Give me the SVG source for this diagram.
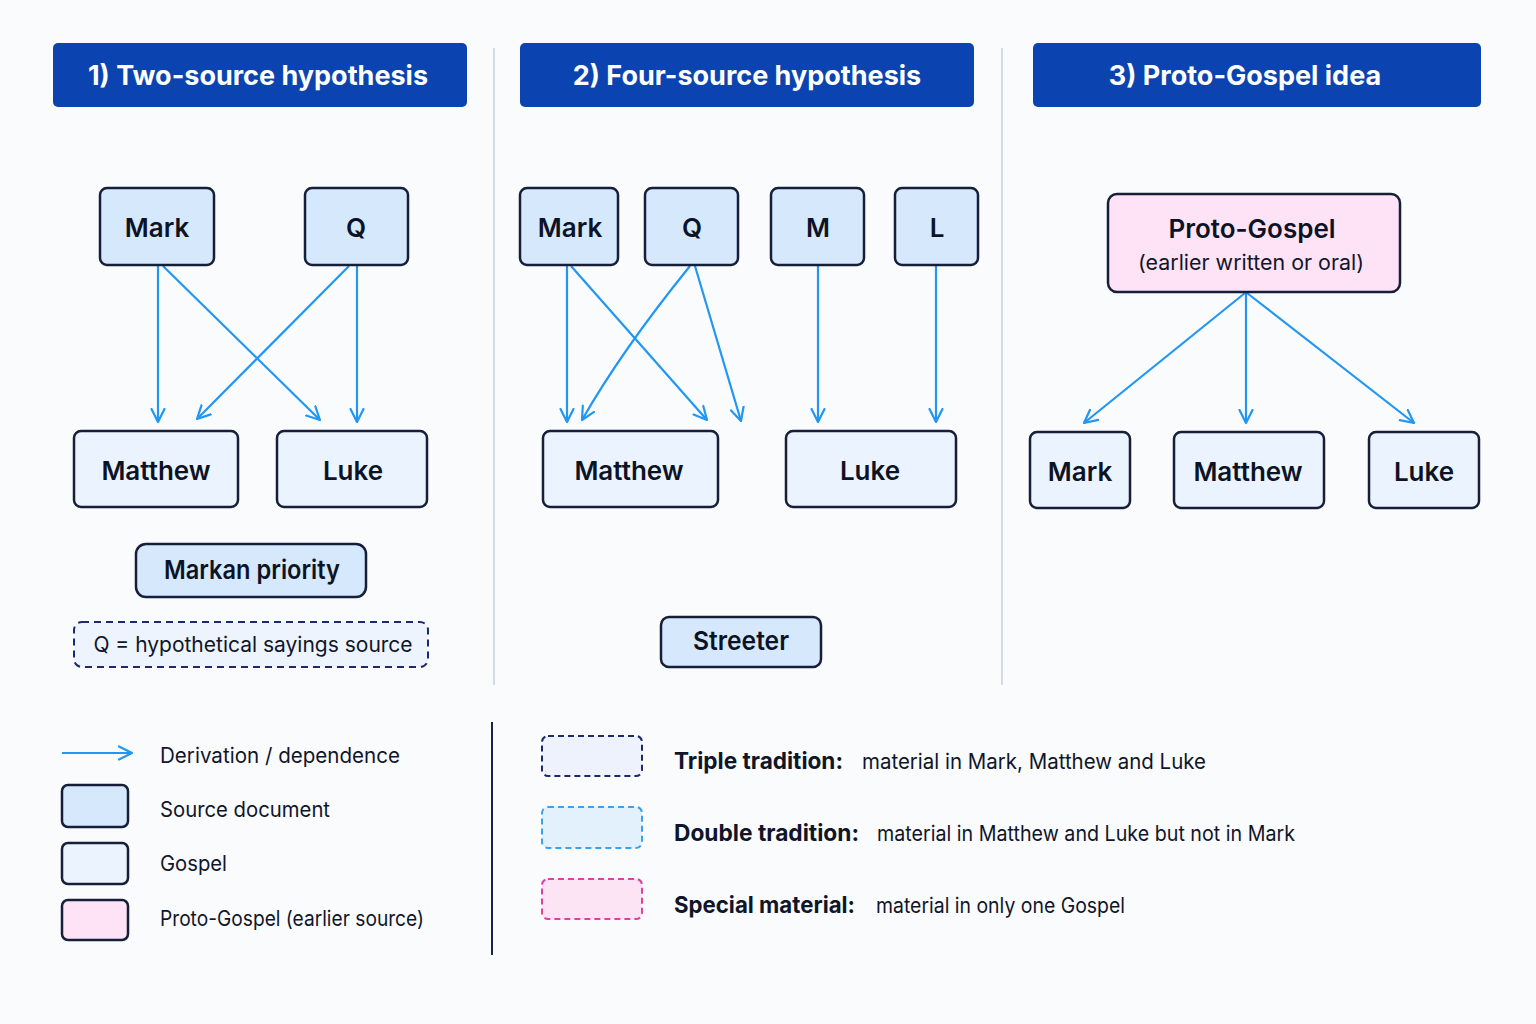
<svg xmlns="http://www.w3.org/2000/svg" width="1536" height="1024" viewBox="0 0 1536 1024">
<defs>
<marker id="arr" viewBox="0 0 16 16" refX="14" refY="8" markerWidth="16" markerHeight="16" markerUnits="userSpaceOnUse" orient="auto">
<path d="M1,1.5 L14,8 L1,14.5" fill="none" stroke="#2196f3" stroke-width="2.2" stroke-linecap="round" stroke-linejoin="round"/>
</marker>
</defs>
<style>
.hdr{fill:#0b44b0}
.htx{font-family:Inter,"Noto Sans",sans-serif;font-weight:700;font-size:27px;fill:#fff;text-anchor:middle}
.src{fill:#d6e8fb;stroke:#161e3a;stroke-width:2.5}
.gos{fill:#ebf4fe;stroke:#161e3a;stroke-width:2.5}
.pro{fill:#fde3f5;stroke:#161e3a;stroke-width:2.5}
.nt{font-family:Inter,"Noto Sans",sans-serif;font-weight:600;font-size:26px;fill:#0d1326;text-anchor:middle}
.lt{font-family:Inter,"Noto Sans",sans-serif;font-size:21px;fill:#10162a}
.lb{font-family:Inter,"Noto Sans",sans-serif;font-weight:700;font-size:23px;fill:#10162a}
.ln{fill:none;stroke:#2196f3;stroke-width:2.2;marker-end:url(#arr)}
.div{stroke:#d3dbe6;stroke-width:2}
</style>
<rect width="1536" height="1024" fill="#fafbfd"/>

<g id="headers">
<g id="h1"><rect class="hdr" x="53" y="43" width="414" height="64" rx="5"/><text class="htx" x="258" y="85">1) Two-source hypothesis</text></g>
<g id="h2"><rect class="hdr" x="520" y="43" width="454" height="64" rx="5"/><text class="htx" x="747" y="85">2) Four-source hypothesis</text></g>
<g id="h3"><rect class="hdr" x="1033" y="43" width="448" height="64" rx="5"/><text class="htx" x="1245" y="85">3) Proto-Gospel idea</text></g>
</g>

<g id="dividers">
<line class="div" x1="494" y1="48" x2="494" y2="685"/>
<line class="div" x1="1002" y1="48" x2="1002" y2="685"/>
<line x1="492" y1="722" x2="492" y2="955" stroke="#1a2250" stroke-width="2"/>
</g>

<g id="connectors">
<line class="ln" x1="158" y1="266" x2="158" y2="422"/>
<line class="ln" x1="163" y1="266" x2="320" y2="420"/>
<line class="ln" x1="349" y1="266" x2="197" y2="419"/>
<line class="ln" x1="357" y1="266" x2="357" y2="422"/>

<line class="ln" x1="567" y1="266" x2="567" y2="422"/>
<line class="ln" x1="571" y1="266" x2="707" y2="420"/>
<path class="ln" d="M690,266 Q622,350 582,420"/>
<line class="ln" x1="695" y1="266" x2="741" y2="421"/>
<line class="ln" x1="818" y1="266" x2="818" y2="422"/>
<line class="ln" x1="936" y1="266" x2="936" y2="422"/>

<line class="ln" x1="1245" y1="293" x2="1084" y2="423"/>
<line class="ln" x1="1246" y1="293" x2="1246" y2="423"/>
<line class="ln" x1="1247" y1="293" x2="1414" y2="423"/>
</g>

<g id="p1-mark"><rect class="src" x="100" y="188" width="114" height="77" rx="7"/><text class="nt" x="157" y="237">Mark</text></g>
<g id="p1-q"><rect class="src" x="305" y="188" width="103" height="77" rx="7"/><text class="nt" x="356" y="237">Q</text></g>
<g id="p1-matthew"><rect class="gos" x="74" y="431" width="164" height="76" rx="7"/><text class="nt" x="156" y="480" font-size="27">Matthew</text></g>
<g id="p1-luke"><rect class="gos" x="277" y="431" width="150" height="76" rx="7"/><text class="nt" x="353" y="480">Luke</text></g>
<g id="p1-markan"><rect class="src" x="136" y="544" width="230" height="53" rx="10" stroke="#1a2a6e"/><text class="nt" x="252" y="579" font-size="23" textLength="176" lengthAdjust="spacingAndGlyphs">Markan priority</text></g>
<g id="p1-qnote"><rect x="74" y="622" width="354" height="45" rx="8" fill="#eef4fd" stroke="#1a2a6e" stroke-width="2" stroke-dasharray="7 5"/><text class="lt" x="253" y="652" text-anchor="middle">Q = hypothetical sayings source</text></g>

<g id="p2-mark"><rect class="src" x="520" y="188" width="98" height="77" rx="7"/><text class="nt" x="570" y="237">Mark</text></g>
<g id="p2-q"><rect class="src" x="645" y="188" width="93" height="77" rx="7"/><text class="nt" x="692" y="237">Q</text></g>
<g id="p2-m"><rect class="src" x="771" y="188" width="93" height="77" rx="7"/><text class="nt" x="818" y="237">M</text></g>
<g id="p2-l"><rect class="src" x="895" y="188" width="83" height="77" rx="7"/><text class="nt" x="937" y="237">L</text></g>
<g id="p2-matthew"><rect class="gos" x="543" y="431" width="175" height="76" rx="7"/><text class="nt" x="629" y="480" font-size="27">Matthew</text></g>
<g id="p2-luke"><rect class="gos" x="786" y="431" width="170" height="76" rx="7"/><text class="nt" x="870" y="480">Luke</text></g>
<g id="p2-streeter"><rect class="src" x="661" y="617" width="160" height="50" rx="8" stroke="#1a2a6e"/><text class="nt" x="741" y="650" font-size="23" textLength="96" lengthAdjust="spacingAndGlyphs">Streeter</text></g>

<g id="p3-proto"><rect class="pro" x="1108" y="194" width="292" height="98" rx="9"/><text class="nt" x="1252" y="238" font-size="27">Proto-Gospel</text><text class="lt" x="1251" y="270" text-anchor="middle" textLength="226" lengthAdjust="spacingAndGlyphs">(earlier written or oral)</text></g>
<g id="p3-mark"><rect class="gos" x="1030" y="432" width="100" height="76" rx="7"/><text class="nt" x="1080" y="481">Mark</text></g>
<g id="p3-matthew"><rect class="gos" x="1174" y="432" width="150" height="76" rx="7"/><text class="nt" x="1248" y="481" font-size="27">Matthew</text></g>
<g id="p3-luke"><rect class="gos" x="1369" y="432" width="110" height="76" rx="7"/><text class="nt" x="1424" y="481">Luke</text></g>

<g id="legend-left">
<line x1="62" y1="753" x2="132" y2="753" stroke="#2196f3" stroke-width="2.2" marker-end="url(#arr)"/>
<text class="lt" x="160" y="763" textLength="240" lengthAdjust="spacingAndGlyphs">Derivation / dependence</text>
<rect class="src" x="62" y="785" width="66" height="42" rx="6" stroke-width="2"/>
<text class="lt" x="160" y="817" textLength="170" lengthAdjust="spacingAndGlyphs">Source document</text>
<rect class="gos" x="62" y="843" width="66" height="41" rx="6" stroke-width="2"/>
<text class="lt" x="160" y="871" textLength="67" lengthAdjust="spacingAndGlyphs">Gospel</text>
<rect class="pro" x="62" y="900" width="66" height="40" rx="6" stroke-width="2"/>
<text class="lt" x="160" y="926" textLength="264" lengthAdjust="spacingAndGlyphs">Proto-Gospel (earlier source)</text>
</g>

<g id="legend-right">
<rect x="542" y="736" width="100" height="40" rx="6" fill="#eef2fc" stroke="#1a2a6e" stroke-width="2" stroke-dasharray="6 4"/>
<text class="lb" x="674" y="769" textLength="169" lengthAdjust="spacingAndGlyphs">Triple tradition:</text>
<text class="lt" x="862" y="769" textLength="344" lengthAdjust="spacingAndGlyphs">material in Mark,  Matthew and Luke</text>
<rect x="542" y="807" width="100" height="41" rx="6" fill="#e3f1fd" stroke="#3aa0f0" stroke-width="2" stroke-dasharray="6 4"/>
<text class="lb" x="674" y="841" textLength="185" lengthAdjust="spacingAndGlyphs">Double tradition:</text>
<text class="lt" x="877" y="841" textLength="418" lengthAdjust="spacingAndGlyphs">material in Matthew and Luke but not in Mark</text>
<rect x="542" y="879" width="100" height="40" rx="6" fill="#fde4f5" stroke="#e040a0" stroke-width="2" stroke-dasharray="6 4"/>
<text class="lb" x="674" y="913" textLength="181" lengthAdjust="spacingAndGlyphs">Special material:</text>
<text class="lt" x="876" y="913" textLength="249" lengthAdjust="spacingAndGlyphs">material in only one Gospel</text>
</g>
</svg>
